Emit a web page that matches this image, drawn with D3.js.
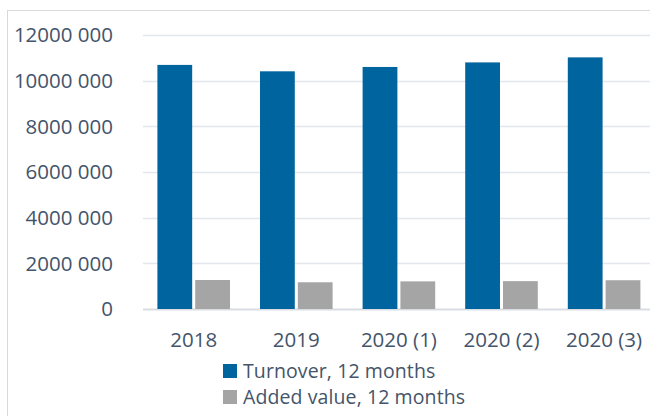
<!DOCTYPE html>
<html>
<head>
<meta charset="utf-8">
<script src="https://cdn.jsdelivr.net/npm/d3@7"></script>
<style>
  body { margin: 0; background: #fff; }
  svg { display: block; font-family: "Open Sans", sans-serif; }
</style>
</head>
<body>
<svg id="chart" width="650" height="416"></svg>
<script>
const categories = ['2018', '2019', '2020 (1)', '2020 (2)', '2020 (3)']
const turnover = [10690000, 10410000, 10600000, 10800000, 11020000]
const addedValue = [1270000, 1170000, 1210000, 1220000, 1260000]
const tickValues = [0, 2000000, 4000000, 6000000, 8000000, 10000000, 12000000]
const tickLabels = ['0', '2000 000', '4000 000', '6000 000', '8000 000', '10000 000', '12000 000']
const seriesNames = ['Turnover, 12 months', 'Added value, 12 months']
const colors = ['#00659e', '#a5a5a5']

const svg = d3.select('#chart')
const textColor = '#44546a'
const fontSize = '20.5px'

// chart frame
svg.append('rect')
  .attr('x', 7.5).attr('y', 10.5)
  .attr('width', 660).attr('height', 420)
  .attr('fill', 'none').attr('stroke', '#d9d9d9')

const y = d3.scaleLinear().domain([0, 12000000]).range([309, 35])
const x = d3.scaleBand().domain(categories).range([142.4, 655.4])
const inner = d3.scaleBand().domain([0, 1]).range([15, 102.6 - 15]).paddingInner(0.08)

// gridlines
svg.append('g').selectAll('line').data(tickValues).enter().append('line')
  .attr('x1', 143).attr('x2', 650)
  .attr('y1', d => Math.round(y(d)) + 0.5)
  .attr('y2', d => Math.round(y(d)) + 0.5)
  .attr('stroke', d => d === 0 ? '#d9dde3' : '#e3e6ea')
  .attr('stroke-width', d => d === 0 ? 2 : 1.5)

// y labels
svg.append('g').selectAll('text').data(tickValues).enter().append('text')
  .attr('x', 113)
  .attr('y', d => y(d))
  .attr('dy', '0.35em')
  .attr('text-anchor', 'end')
  .attr('fill', textColor)
  .style('font-size', fontSize)
  .text((d, i) => tickLabels[i])

// bars
const series = [turnover, addedValue]
series.forEach(function (values, s) {
  svg.append('g').selectAll('rect').data(values).enter().append('rect')
    .attr('x', (d, i) => x(categories[i]) + inner(s))
    .attr('y', d => y(d))
    .attr('width', inner.bandwidth())
    .attr('height', d => y(0) - y(d))
    .attr('fill', colors[s])
})

// x labels
svg.append('g').selectAll('text').data(categories).enter().append('text')
  .attr('x', d => x(d) + x.bandwidth() / 2)
  .attr('y', 340)
  .attr('dy', '0.35em')
  .attr('text-anchor', 'middle')
  .attr('fill', textColor)
  .style('font-size', fontSize)
  .text(d => d)

// legend
const legend = svg.append('g').selectAll('g').data(seriesNames).enter().append('g')
  .attr('transform', (d, i) => `translate(223, ${364 + i * 26})`)
legend.append('rect')
  .attr('width', 14).attr('height', 14)
  .attr('fill', (d, i) => colors[i])
legend.append('text')
  .attr('x', 20).attr('y', 7)
  .attr('dy', '0.35em')
  .attr('fill', textColor)
  .style('font-size', '19.5px')
  .style('letter-spacing', '0.1px')
  .text(d => d)
</script>
</body>
</html>
